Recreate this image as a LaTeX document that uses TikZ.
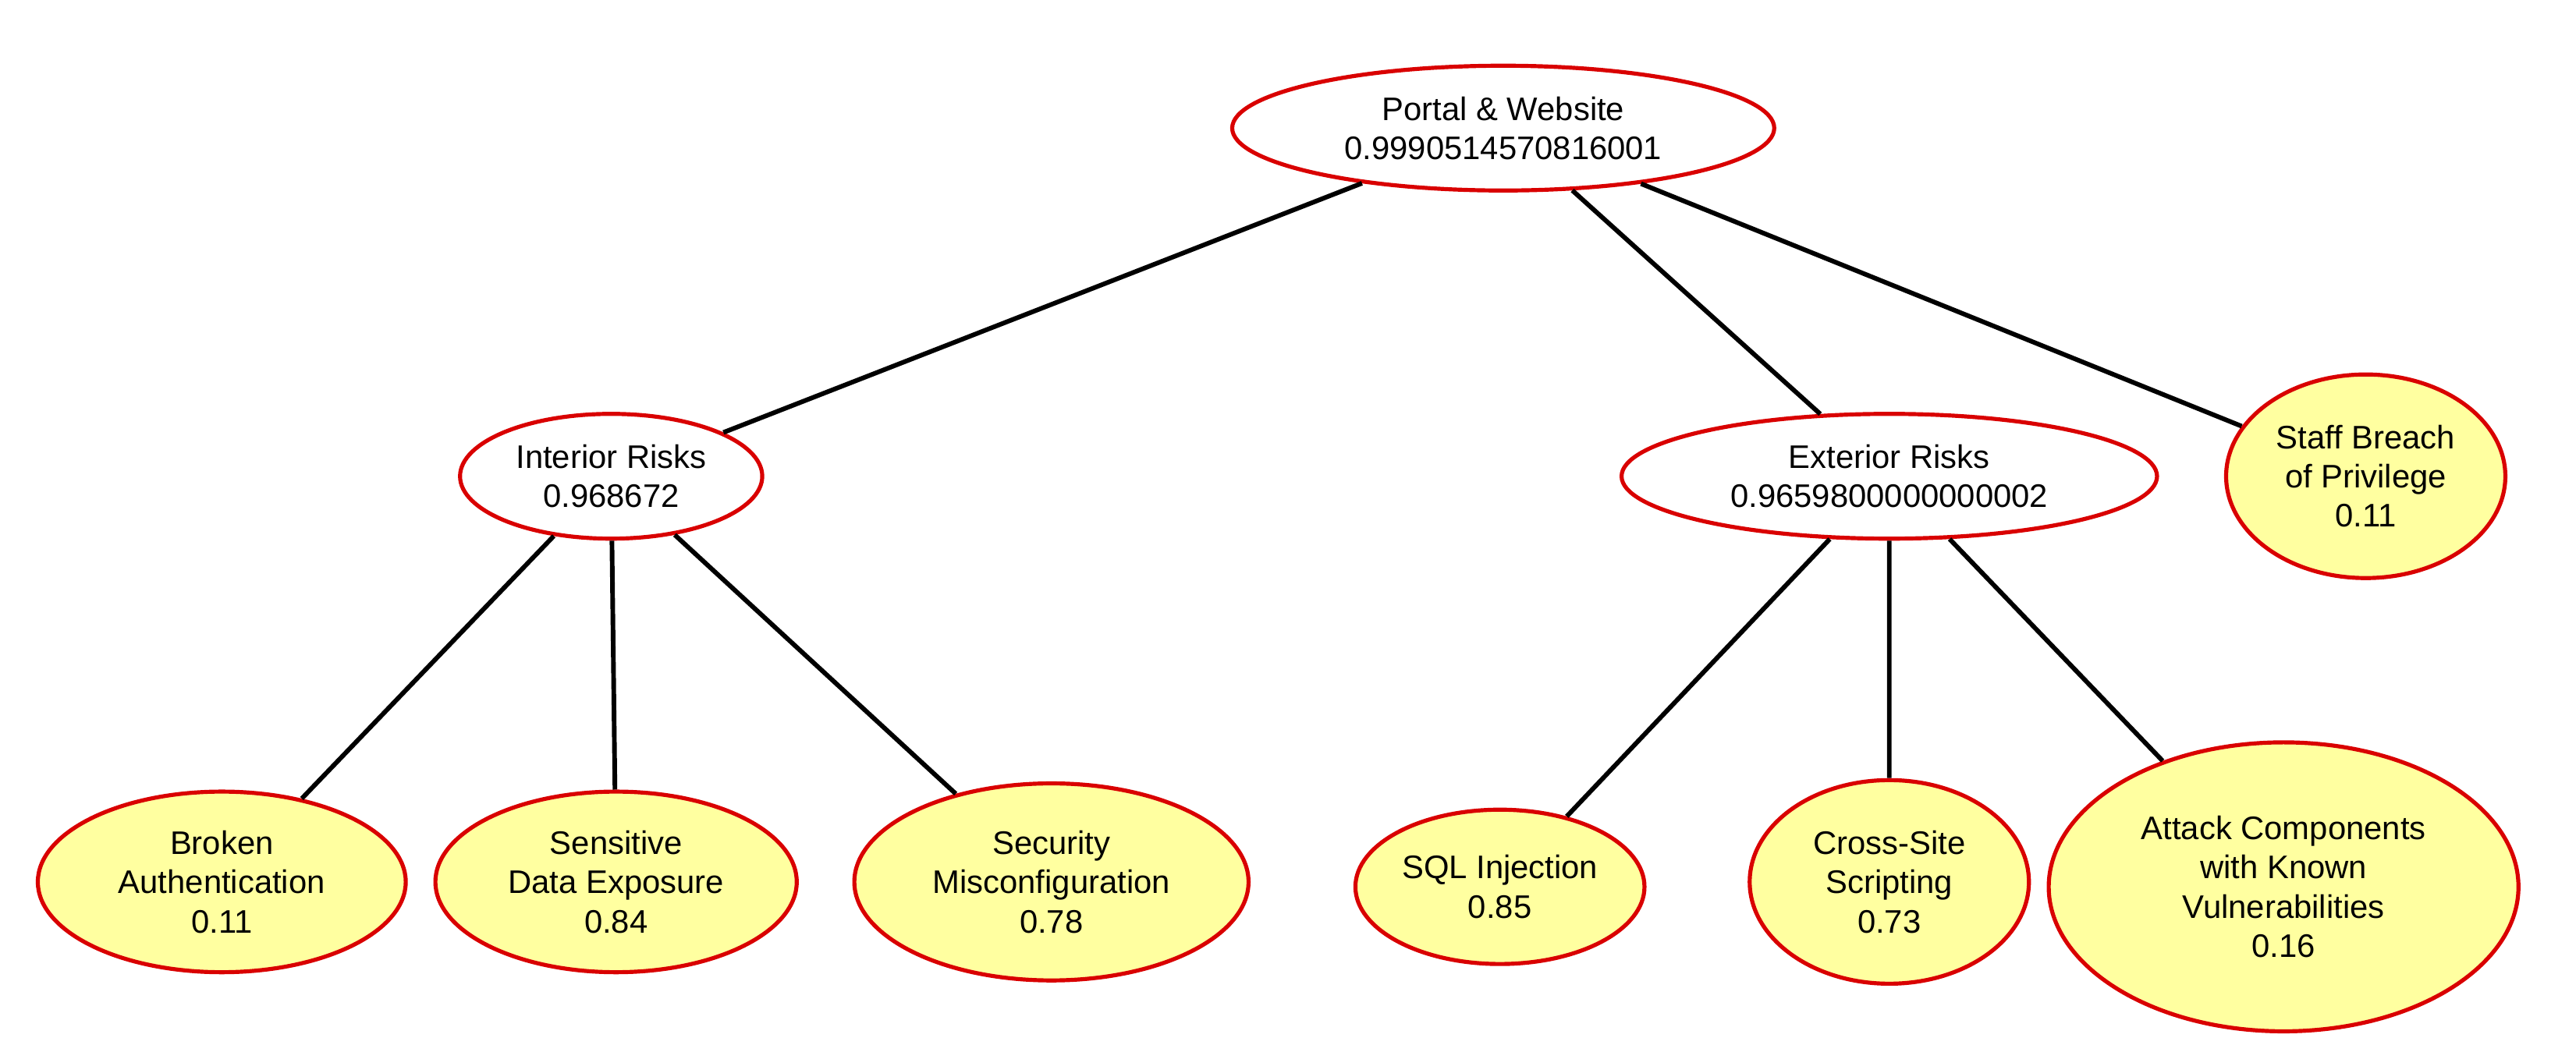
\documentclass[tikz,border=0pt]{standalone}
\usepackage{fontspec}
\setmainfont{Liberation Sans}
\usetikzlibrary{shapes.geometric,positioning}

\definecolor{leafyellow}{RGB}{255,255,160}

\begin{document}
\begin{tikzpicture}[x=0.02cm,y=-0.02cm,
	risk/.style={ellipse, draw=red!85!black, line width=1.4pt, fill=white,
		align=center, inner sep=0pt, font=\fontsize{11.3}{13.6}\selectfont},
	leaf/.style={risk, fill=leafyellow},
	link/.style={line width=1.6pt, black}]

	\useasboundingbox (0,0) rectangle (1568,636);

	% root
	\node[risk, minimum width=6.6cm, minimum height=1.52cm] (portal) at (915,78)
		{Portal \& Website\\0.9990514570816001};

	% groups
	\node[risk, minimum width=3.68cm, minimum height=1.52cm] (interior) at (372,290)
		{Interior Risks\\0.968672};
	\node[risk, minimum width=6.52cm, minimum height=1.52cm] (exterior) at (1150,290)
		{Exterior Risks\\0.9659800000000002};
	\node[leaf, minimum width=3.4cm, minimum height=2.48cm] (staff) at (1440,290)
		{Staff Breach\\of Privilege\\0.11};

	% leaves
	\node[leaf, minimum width=4.48cm, minimum height=2.2cm] (broken) at (135,537)
		{Broken\\Authentication\\0.11};
	\node[leaf, minimum width=4.4cm, minimum height=2.2cm] (sensitive) at (375,537)
		{Sensitive\\Data Exposure\\0.84};
	\node[leaf, minimum width=4.8cm, minimum height=2.4cm] (misconf) at (640,537)
		{Security\\Misconfiguration\\0.78};
	\node[leaf, minimum width=3.52cm, minimum height=1.88cm] (sql) at (913,540)
		{SQL Injection\\0.85};
	\node[leaf, minimum width=3.4cm, minimum height=2.48cm] (xss) at (1150,537)
		{Cross-Site\\Scripting\\0.73};
	\node[leaf, minimum width=5.72cm, minimum height=3.52cm] (attack) at (1390,540)
		{Attack Components\\with Known\\Vulnerabilities\\0.16};

	\draw[link]
		(portal) -- (interior)
		(portal) -- (exterior)
		(portal) -- (staff)
		(interior) -- (broken)
		(interior) -- (sensitive)
		(interior) -- (misconf)
		(exterior) -- (sql)
		(exterior) -- (xss)
		(exterior) -- (attack);

\end{tikzpicture}
\end{document}
